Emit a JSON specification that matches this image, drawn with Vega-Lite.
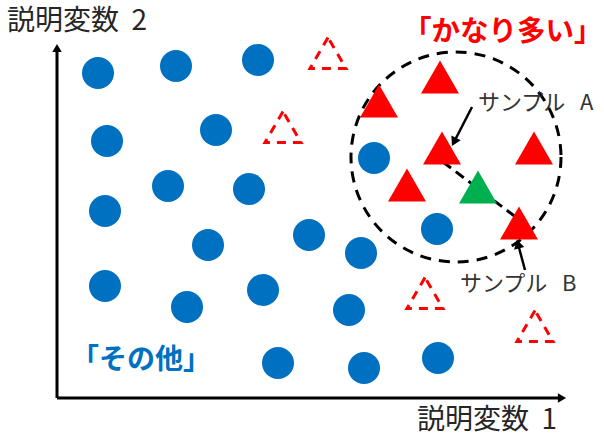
{
  "$schema": "https://vega.github.io/schema/vega-lite/v6.json",
  "width": 604,
  "height": 438,
  "autosize": {"type": "fit", "contains": "padding"},
  "padding": 0,
  "background": "white",
  "config": {"view": {"stroke": null}},
  "datasets": {
    "pts": [
      {"x": 98, "y": 73, "kind": "blue"},
      {"x": 176, "y": 66, "kind": "blue"},
      {"x": 258, "y": 60, "kind": "blue"},
      {"x": 107, "y": 141, "kind": "blue"},
      {"x": 216, "y": 130, "kind": "blue"},
      {"x": 374, "y": 158, "kind": "blue"},
      {"x": 168, "y": 186, "kind": "blue"},
      {"x": 249, "y": 189, "kind": "blue"},
      {"x": 105, "y": 211, "kind": "blue"},
      {"x": 208, "y": 245, "kind": "blue"},
      {"x": 309, "y": 235, "kind": "blue"},
      {"x": 361, "y": 253, "kind": "blue"},
      {"x": 437, "y": 229, "kind": "blue"},
      {"x": 105, "y": 286, "kind": "blue"},
      {"x": 187, "y": 307, "kind": "blue"},
      {"x": 263, "y": 290, "kind": "blue"},
      {"x": 349, "y": 310, "kind": "blue"},
      {"x": 278, "y": 363, "kind": "blue"},
      {"x": 364, "y": 368, "kind": "blue"},
      {"x": 438, "y": 358, "kind": "blue"},
      {"x": 440, "y": 77, "kind": "red"},
      {"x": 379, "y": 101, "kind": "red"},
      {"x": 442, "y": 148, "kind": "red"},
      {"x": 534, "y": 148, "kind": "red"},
      {"x": 407, "y": 185, "kind": "red"},
      {"x": 519, "y": 223, "kind": "red"},
      {"x": 478, "y": 187, "kind": "green"},
      {"x": 328, "y": 53, "kind": "dashed"},
      {"x": 283, "y": 127, "kind": "dashed"},
      {"x": 425, "y": 293, "kind": "dashed"},
      {"x": 535, "y": 326, "kind": "dashed"}
    ],
    "big": [{"x": 456, "y": 157}],
    "segs": [
      {"seg": "yaxis", "ord": 1, "x": 57, "y": 398, "kind": "axis"},
      {"seg": "yaxis", "ord": 2, "x": 57, "y": 50, "kind": "axis"},
      {"seg": "xaxis", "ord": 1, "x": 57, "y": 398, "kind": "axis"},
      {"seg": "xaxis", "ord": 2, "x": 560, "y": 398, "kind": "axis"},
      {"seg": "arrowA", "ord": 1, "x": 472, "y": 107, "kind": "arrow"},
      {"seg": "arrowA", "ord": 2, "x": 454, "y": 142, "kind": "arrow"},
      {"seg": "arrowB", "ord": 1, "x": 525, "y": 270, "kind": "arrow"},
      {"seg": "arrowB", "ord": 2, "x": 518, "y": 244, "kind": "arrow"},
      {"seg": "ab", "ord": 1, "x": 443, "y": 162, "kind": "dash"},
      {"seg": "ab", "ord": 2, "x": 517, "y": 218, "kind": "dash"}
    ],
    "heads": [
      {"name": "up", "x": 57, "y": 48},
      {"name": "right", "x": 562, "y": 398},
      {"name": "A", "x": 454, "y": 142},
      {"name": "B", "x": 518, "y": 244}
    ],
    "labels": [
      {"x": 7, "y": 22, "text": "説明変数\u00a0\u00a02", "kind": "axis"},
      {"x": 417, "y": 421, "text": "説明変数\u00a0\u00a01", "kind": "axis"},
      {"x": 403, "y": 32, "text": "「かなり多い」", "kind": "red"},
      {"x": 71, "y": 361, "text": "「その他」", "kind": "blue"},
      {"x": 478, "y": 103, "text": "サンプル\u00a0\u00a0\u00a0A", "kind": "sample"},
      {"x": 460, "y": 284, "text": "サンプル\u00a0\u00a0\u00a0B", "kind": "sample"}
    ]
  },
  "encoding": {
    "x": {"field": "x", "type": "quantitative", "axis": null, "scale": {"domain": [0, 604], "nice": false, "zero": false}},
    "y": {"field": "y", "type": "quantitative", "axis": null, "scale": {"domain": [0, 438], "nice": false, "zero": false, "reverse": true}}
  },
  "layer": [
    {
      "data": {"name": "big"},
      "mark": {"type": "point", "shape": "circle", "size": 44100, "filled": false, "stroke": "#000000", "strokeWidth": 3, "strokeDash": [11, 8], "opacity": 1}
    },
    {
      "data": {"name": "segs"},
      "transform": [{"filter": "datum.kind === 'dash'"}],
      "mark": {"type": "line", "color": "#000000", "strokeWidth": 3, "strokeDash": [10, 6]},
      "encoding": {"detail": {"field": "seg"}, "order": {"field": "ord"}}
    },
    {
      "data": {"name": "pts"},
      "transform": [{"filter": "datum.kind === 'blue'"}],
      "mark": {"type": "point", "shape": "circle", "size": 1024, "filled": true, "color": "#0070C0", "opacity": 1}
    },
    {
      "data": {"name": "pts"},
      "transform": [{"filter": "datum.kind === 'red'"}],
      "mark": {"type": "point", "shape": "triangle-up", "size": 1444, "filled": true, "color": "#FF0000", "opacity": 1}
    },
    {
      "data": {"name": "pts"},
      "transform": [{"filter": "datum.kind === 'green'"}],
      "mark": {"type": "point", "shape": "triangle-up", "size": 1444, "filled": true, "color": "#00B050", "opacity": 1}
    },
    {
      "data": {"name": "pts"},
      "transform": [{"filter": "datum.kind === 'dashed'"}],
      "mark": {"type": "point", "shape": "triangle-up", "size": 1300, "filled": false, "stroke": "#FF0000", "strokeWidth": 3, "strokeDash": [9, 7], "opacity": 1}
    },
    {
      "data": {"name": "segs"},
      "transform": [{"filter": "datum.kind === 'axis'"}],
      "mark": {"type": "line", "color": "#000000", "strokeWidth": 3},
      "encoding": {"detail": {"field": "seg"}, "order": {"field": "ord"}}
    },
    {
      "data": {"name": "segs"},
      "transform": [{"filter": "datum.kind === 'arrow'"}],
      "mark": {"type": "line", "color": "#000000", "strokeWidth": 2.5},
      "encoding": {"detail": {"field": "seg"}, "order": {"field": "ord"}}
    },
    {
      "data": {"name": "heads"},
      "transform": [{"filter": "datum.name === 'up'"}],
      "mark": {"type": "point", "shape": "triangle-up", "size": 90, "filled": true, "color": "#000000", "opacity": 1}
    },
    {
      "data": {"name": "heads"},
      "transform": [{"filter": "datum.name === 'right'"}],
      "mark": {"type": "point", "shape": "triangle-right", "size": 90, "filled": true, "color": "#000000", "opacity": 1}
    },
    {
      "data": {"name": "heads"},
      "transform": [{"filter": "datum.name === 'A'"}],
      "mark": {"type": "point", "shape": "triangle-up", "size": 110, "angle": 207, "filled": true, "color": "#000000", "opacity": 1}
    },
    {
      "data": {"name": "heads"},
      "transform": [{"filter": "datum.name === 'B'"}],
      "mark": {"type": "point", "shape": "triangle-up", "size": 110, "angle": 345, "filled": true, "color": "#000000", "opacity": 1}
    },
    {
      "data": {"name": "labels"},
      "transform": [{"filter": "datum.kind === 'axis'"}],
      "mark": {"type": "text", "align": "left", "baseline": "middle", "font": "Noto Sans CJK JP", "fontSize": 28, "color": "#262626"},
      "encoding": {"text": {"field": "text"}}
    },
    {
      "data": {"name": "labels"},
      "transform": [{"filter": "datum.kind === 'red'"}],
      "mark": {"type": "text", "align": "left", "baseline": "middle", "font": "Noto Sans CJK JP", "fontSize": 28.5, "fontWeight": "bold", "color": "#FF0000"},
      "encoding": {"text": {"field": "text"}}
    },
    {
      "data": {"name": "labels"},
      "transform": [{"filter": "datum.kind === 'blue'"}],
      "mark": {"type": "text", "align": "left", "baseline": "middle", "font": "Noto Sans CJK JP", "fontSize": 28, "fontWeight": "bold", "color": "#0070C0"},
      "encoding": {"text": {"field": "text"}}
    },
    {
      "data": {"name": "labels"},
      "transform": [{"filter": "datum.kind === 'sample'"}],
      "mark": {"type": "text", "align": "left", "baseline": "middle", "font": "Noto Sans CJK JP", "fontSize": 22, "color": "#333333"},
      "encoding": {"text": {"field": "text"}}
    }
  ]
}
